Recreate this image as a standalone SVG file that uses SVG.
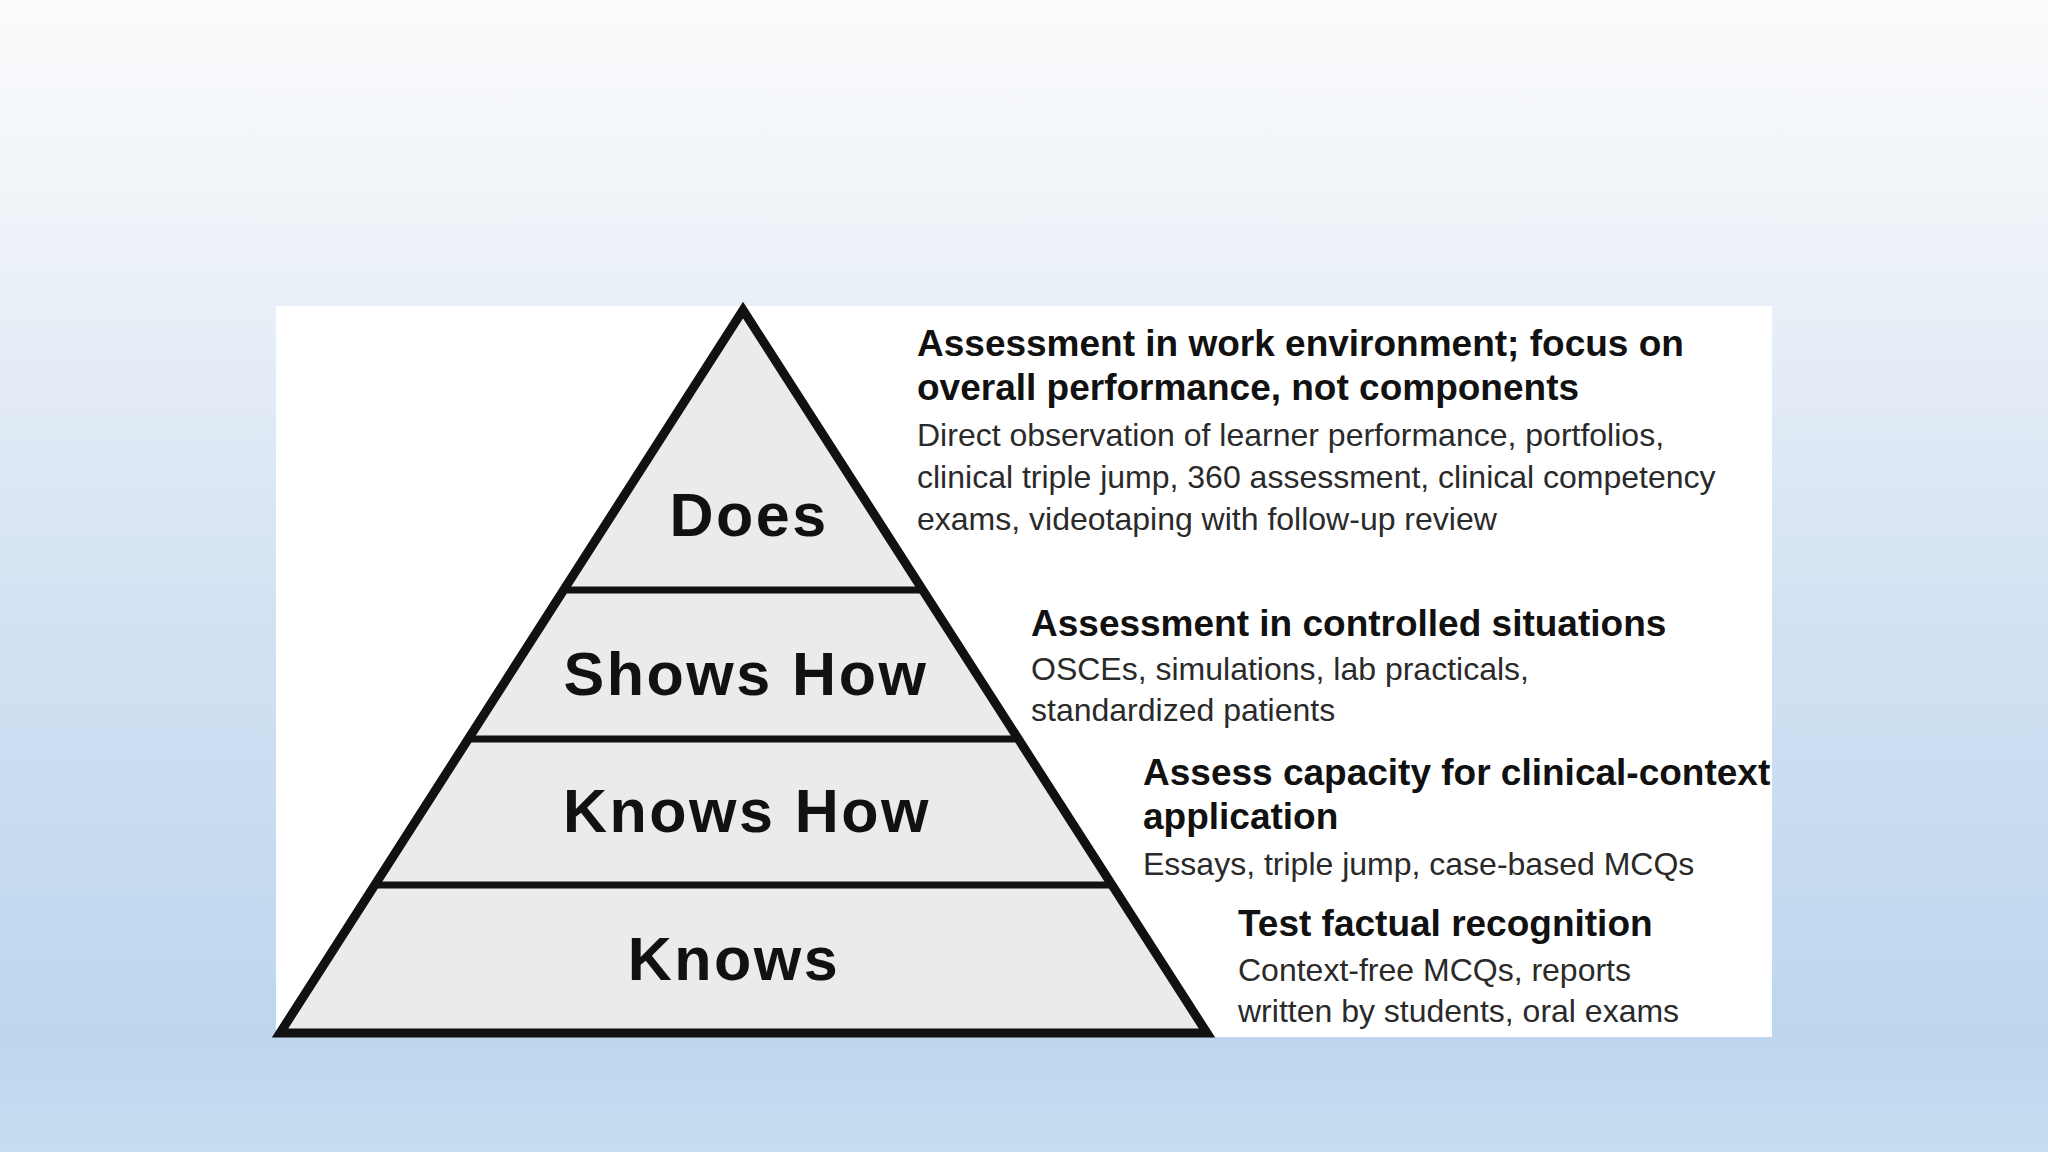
<svg xmlns="http://www.w3.org/2000/svg" width="2048" height="1152" viewBox="0 0 2048 1152">
  <defs>
    <linearGradient id="bg" x1="0" y1="0" x2="0" y2="1">
      <stop offset="0" stop-color="#fafbfc"/>
      <stop offset="0.15" stop-color="#f2f5f9"/>
      <stop offset="0.5" stop-color="#d5e3f3"/>
      <stop offset="0.9" stop-color="#bdd6ee"/>
      <stop offset="1" stop-color="#c7ddf1"/>
    </linearGradient>
    <style>
      .band { fill: #ebebed; }
      .lvl { font-family: "Liberation Sans", Arial, sans-serif; font-weight: bold; font-size: 61px; fill: #111; text-anchor: middle; letter-spacing: 2.5px; }
      .hd { font-family: "Liberation Sans", Arial, sans-serif; font-weight: bold; font-size: 37px; fill: #111; }
      .tx { font-family: "Liberation Sans", Arial, sans-serif; font-size: 32px; fill: #2a2a2a; }
      .outline { fill: none; stroke: #111; stroke-width: 9; stroke-linejoin: miter; }
      .div { stroke: #111; stroke-width: 7; }
    </style>
  </defs>
  <rect x="0" y="0" width="2048" height="1152" fill="url(#bg)"/>
  <rect x="276" y="306" width="1496" height="731" fill="#ffffff"/>

  <g id="level-does">
    <polygon class="band" points="743,310 923,590 564,590"/>
    <text class="lvl" x="749" y="536">Does</text>
    <text class="hd" x="917" y="356">Assessment in work environment; focus on</text>
    <text class="hd" x="917" y="400">overall performance, not components</text>
    <text class="tx" x="917" y="446">Direct observation of learner performance, portfolios,</text>
    <text class="tx" x="917" y="488">clinical triple jump, 360 assessment, clinical competency</text>
    <text class="tx" x="917" y="530">exams, videotaping with follow-up review</text>
  </g>

  <g id="level-shows-how">
    <polygon class="band" points="564,590 923,590 1018,739 468,739"/>
    <text class="lvl" x="746" y="695">Shows How</text>
    <text class="hd" x="1031" y="636">Assessment in controlled situations</text>
    <text class="tx" x="1031" y="680">OSCEs, simulations, lab practicals,</text>
    <text class="tx" x="1031" y="721">standardized patients</text>
  </g>

  <g id="level-knows-how">
    <polygon class="band" points="468,739 1018,739 1112,885 375,885"/>
    <text class="lvl" x="747" y="832">Knows How</text>
    <text class="hd" x="1143" y="785">Assess capacity for clinical-context</text>
    <text class="hd" x="1143" y="829">application</text>
    <text class="tx" x="1143" y="875">Essays, triple jump, case-based MCQs</text>
  </g>

  <g id="level-knows">
    <polygon class="band" points="375,885 1112,885 1207,1033 280,1033"/>
    <text class="lvl" x="734" y="980">Knows</text>
    <text class="hd" x="1238" y="936">Test factual recognition</text>
    <text class="tx" x="1238" y="981">Context-free MCQs, reports</text>
    <text class="tx" x="1238" y="1022">written by students, oral exams</text>
  </g>

  <g id="connectors">
    <polygon class="outline" points="743,310 1207,1033 280,1033"/>
    <line class="div" x1="564" y1="590" x2="923" y2="590"/>
    <line class="div" x1="468" y1="739" x2="1018" y2="739"/>
    <line class="div" x1="375" y1="885" x2="1112" y2="885"/>
  </g>
</svg>
